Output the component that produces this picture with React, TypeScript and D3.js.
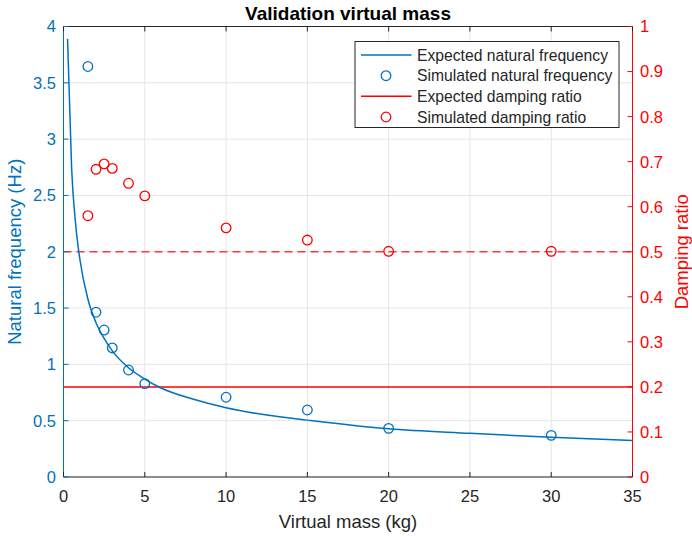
import React from "react";
import * as d3 from "d3";

const expectedMass = [0.25, 0.5, 0.75, 1, 1.5, 2, 2.5, 3, 4, 5, 6, 8, 10, 12.5, 15, 20, 25, 30, 35];
const expectedFreq = [3.89, 2.74, 2.24, 1.94, 1.58, 1.37, 1.23, 1.12, 0.97, 0.87, 0.79, 0.69, 0.615, 0.55, 0.505, 0.428, 0.388, 0.353, 0.325];

const simMass = [1.5, 2, 2.5, 3, 4, 5, 10, 15, 20, 30];
const simFreq = [3.645, 1.463, 1.305, 1.146, 0.95, 0.829, 0.708, 0.595, 0.432, 0.37];
const simDamping = [0.58, 0.683, 0.695, 0.685, 0.652, 0.624, 0.553, 0.526, 0.501, 0.501];

const expectedDampingSolid = 0.2;
const referenceDampingDashed = 0.5;

const xTicks = [0, 5, 10, 15, 20, 25, 30, 35];
const yLeftTicks = [0, 0.5, 1, 1.5, 2, 2.5, 3, 3.5, 4];
const yRightTicks = [0, 0.1, 0.2, 0.3, 0.4, 0.5, 0.6, 0.7, 0.8, 0.9, 1];

const legendLabels = [
  "Expected natural frequency",
  "Simulated natural frequency",
  "Expected damping ratio",
  "Simulated damping ratio",
];

const BLUE = "#0072BD";
const RED = "#FF0000";
const DARK = "#262626";
const GRID = "#e3e6ea";
const FONT = "'Liberation Sans', Arial, Helvetica, sans-serif";

export default function App() {
  const W = 692, H = 537;
  const L = 63.5, R = 632.5, T = 26.5, B = 477;
  const x = d3.scaleLinear().domain([0, 35]).range([L, R]);
  const yL = d3.scaleLinear().domain([0, 4]).range([B, T]);
  const yR = d3.scaleLinear().domain([0, 1]).range([B, T]);

  const line = d3
    .line<number>()
    .x((_, i) => x(expectedMass[i]))
    .y((d) => yL(d))
    .curve(d3.curveMonotoneX);

  const tickLen = 5;
  const tickFont = 16.5;
  const labelFont = 18.5;
  const rMarker = 4.8;

  const legX = 355, legY = 41.5, legW = 264, legH = 86;
  const rowY = [55, 75.7, 96.3, 117];

  return (
    <svg
      width={W}
      height={H}
      style={{ position: "absolute", left: 0, top: 0, background: "#fff" }}
      fontFamily={FONT}
    >
      <rect x={0} y={0} width={W} height={H} fill="#fff" />
      {/* grid */}
      {xTicks.map((t) => (
        <line key={"gx" + t} x1={x(t)} x2={x(t)} y1={T} y2={B} stroke={GRID} strokeWidth={1} />
      ))}
      {yLeftTicks.map((t) => (
        <line key={"gy" + t} x1={L} x2={R} y1={yL(t)} y2={yL(t)} stroke={GRID} strokeWidth={1} />
      ))}

      {/* reference lines */}
      <line
        x1={L}
        x2={R}
        y1={yR(referenceDampingDashed)}
        y2={yR(referenceDampingDashed)}
        stroke={RED}
        strokeOpacity={0.75}
        strokeWidth={1.5}
        strokeDasharray="8,5"
      />
      <line
        x1={L}
        x2={R}
        y1={yR(expectedDampingSolid)}
        y2={yR(expectedDampingSolid)}
        stroke={RED}
        strokeWidth={1.5}
      />

      {/* expected curve */}
      <path d={line(expectedFreq) || ""} fill="none" stroke={BLUE} strokeWidth={1.5} />

      {/* simulated markers */}
      {simMass.map((m, i) => (
        <circle key={"sf" + i} cx={x(m)} cy={yL(simFreq[i])} r={rMarker} fill="none" stroke={BLUE} strokeWidth={1.3} />
      ))}
      {simMass.map((m, i) => (
        <circle key={"sd" + i} cx={x(m)} cy={yR(simDamping[i])} r={rMarker} fill="none" stroke={RED} strokeWidth={1.3} />
      ))}

      {/* axes box */}
      <line x1={L} x2={R} y1={B} y2={B} stroke={DARK} strokeWidth={1} />
      <line x1={L} x2={R} y1={T} y2={T} stroke={DARK} strokeWidth={1} />
      <line x1={L} x2={L} y1={T} y2={B} stroke={BLUE} strokeWidth={1} />
      <line x1={R} x2={R} y1={T} y2={B} stroke={RED} strokeWidth={1} />

      {/* x ticks */}
      {xTicks.map((t) => (
        <g key={"xt" + t}>
          <line x1={x(t)} x2={x(t)} y1={B} y2={B - tickLen} stroke={DARK} />
          <line x1={x(t)} x2={x(t)} y1={T} y2={T + tickLen} stroke={DARK} />
          <text x={x(t)} y={502} textAnchor="middle" fontSize={tickFont} fill={DARK}>
            {t}
          </text>
        </g>
      ))}
      {/* left ticks */}
      {yLeftTicks.map((t) => (
        <g key={"yl" + t}>
          <line x1={L} x2={L + tickLen} y1={yL(t)} y2={yL(t)} stroke={BLUE} />
          <text x={56} y={yL(t)} dy="0.36em" textAnchor="end" fontSize={tickFont} fill={BLUE}>
            {t}
          </text>
        </g>
      ))}
      {/* right ticks */}
      {yRightTicks.map((t) => (
        <g key={"yr" + t}>
          <line x1={R} x2={R - tickLen} y1={yR(t)} y2={yR(t)} stroke={RED} />
          <text x={640} y={yR(t)} dy="0.36em" textAnchor="start" fontSize={tickFont} fill={RED}>
            {t}
          </text>
        </g>
      ))}

      {/* labels */}
      <text x={(L + R) / 2} y={20} textAnchor="middle" fontSize={19} fontWeight="bold" fill="#000">
        Validation virtual mass
      </text>
      <text x={(L + R) / 2} y={527.5} textAnchor="middle" fontSize={labelFont} fill={DARK}>
        Virtual mass (kg)
      </text>
      <text
        transform={`translate(20.5,${(T + B) / 2}) rotate(-90)`}
        textAnchor="middle"
        fontSize={labelFont}
        fill={BLUE}
      >
        Natural frequency (Hz)
      </text>
      <text
        transform={`translate(688,${(T + B) / 2}) rotate(-90)`}
        textAnchor="middle"
        fontSize={labelFont}
        fill={RED}
      >
        Damping ratio
      </text>

      {/* legend */}
      <rect x={legX} y={legY} width={legW} height={legH} fill="#fff" stroke="#262626" strokeWidth={1} />
      <line x1={361} x2={411.5} y1={rowY[0]} y2={rowY[0]} stroke={BLUE} strokeWidth={1.5} />
      <circle cx={386} cy={rowY[1]} r={rMarker} fill="none" stroke={BLUE} strokeWidth={1.3} />
      <line x1={361} x2={411.5} y1={rowY[2]} y2={rowY[2]} stroke={RED} strokeWidth={1.5} />
      <circle cx={386} cy={rowY[3]} r={rMarker} fill="none" stroke={RED} strokeWidth={1.3} />
      {legendLabels.map((s, i) => (
        <text key={s} x={417} y={rowY[i]} dy="0.36em" fontSize={15.7} fill={DARK}>
          {s}
        </text>
      ))}
    </svg>
  );
}
